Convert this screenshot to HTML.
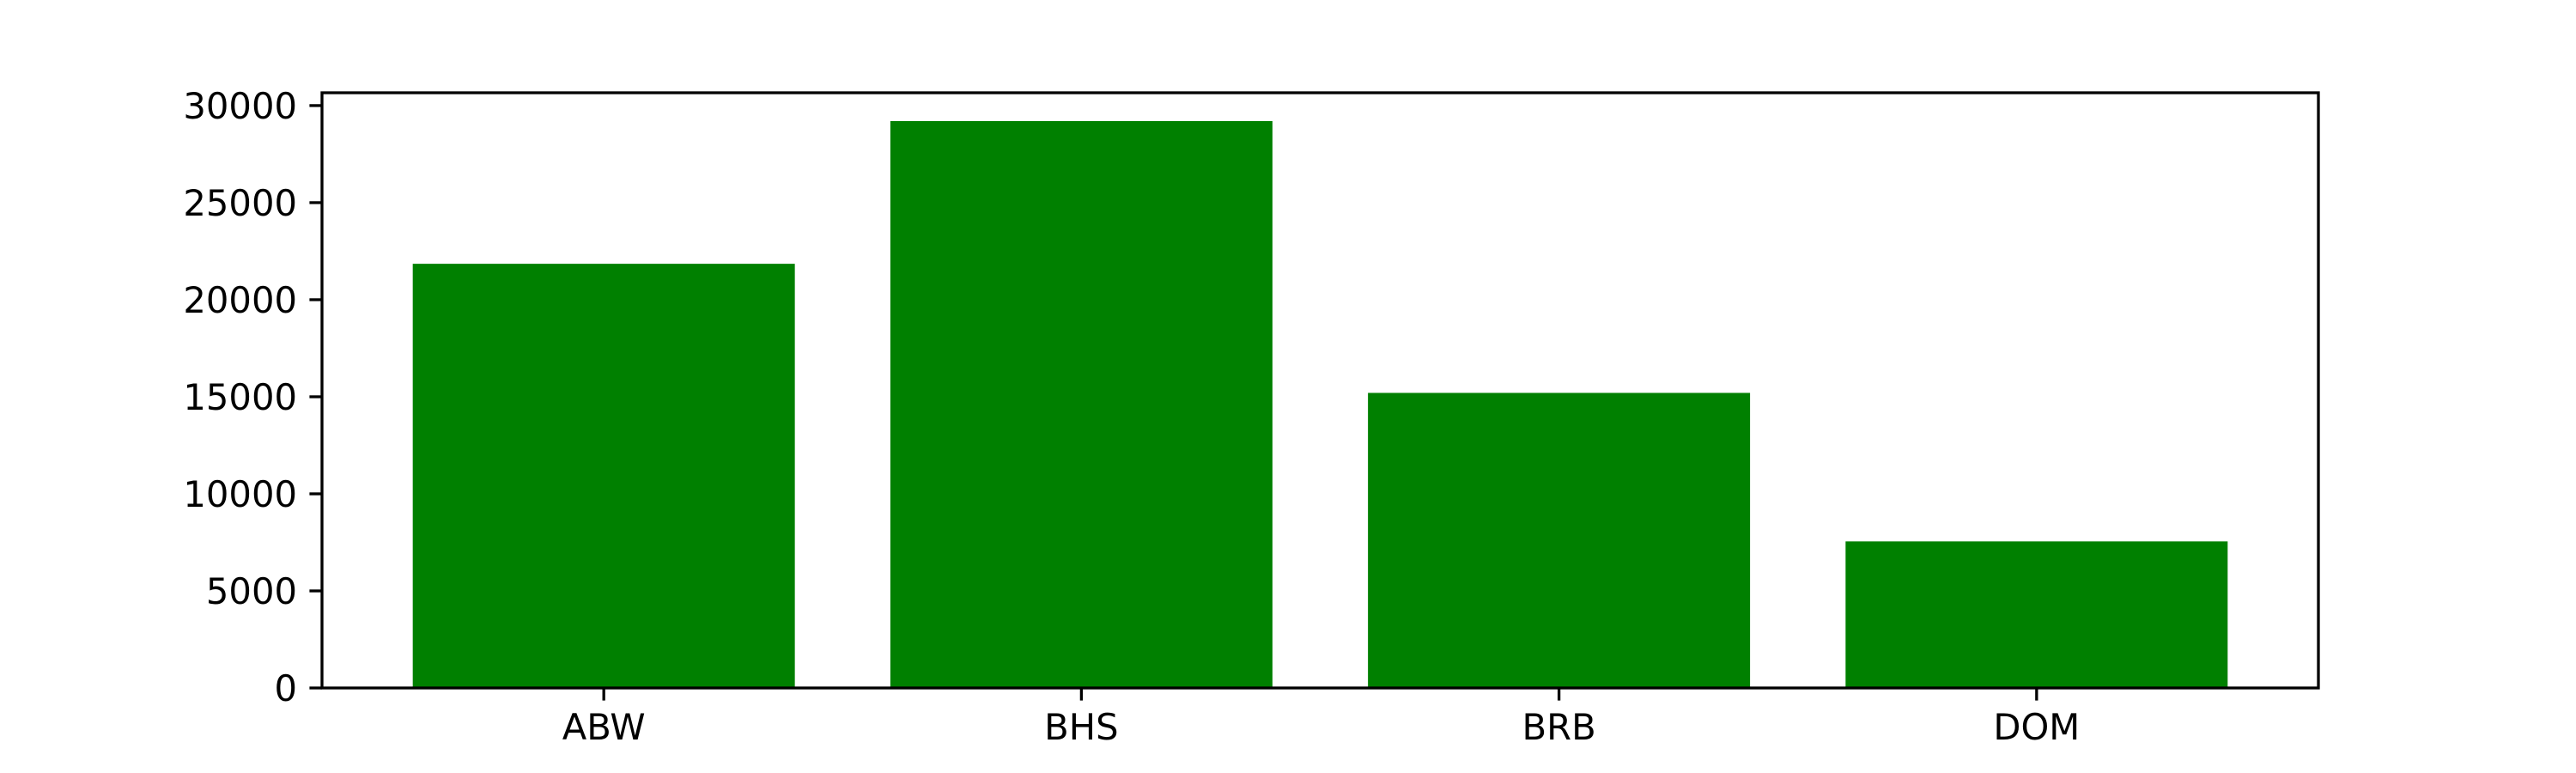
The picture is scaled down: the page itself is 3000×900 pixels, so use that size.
<!DOCTYPE html>
<html><head><meta charset="utf-8"><style>
html,body{margin:0;padding:0;background:#fff;}
svg{display:block;}
text{font-family:"DejaVu Sans","Liberation Sans",sans-serif;font-size:41.7px;fill:#000;}
</style></head>
<body>
<svg id="chart" width="3000" height="900"></svg>
<script>
const categories = ["ABW", "BHS", "BRB", "DOM"];
const values = [21850, 29200, 15200, 7550];
const yTicks = [0, 5000, 10000, 15000, 20000, 25000, 30000];

const NS = "http://www.w3.org/2000/svg";
const svg = document.getElementById("chart");
const L = 375, R = 2700, T = 108, B = 801;
const yMax = Math.max(...values) * 1.05;
const xMin = -0.4 - 0.19 * (categories.length - 1 + 0.8) / 3.8, xMax = categories.length - 1 + 0.4 + 0.19 * (categories.length - 1 + 0.8) / 3.8;
function xs(v){ return L + (v - xMin) / (xMax - xMin) * (R - L); }
function ys(v){ return B - v / yMax * (B - T); }
function mk(tag, attrs){ const e = document.createElementNS(NS, tag); for (const k in attrs) e.setAttribute(k, attrs[k]); svg.appendChild(e); return e; }

values.forEach((v, i) => {
  const r = mk("rect", {x: xs(i - 0.4), y: ys(v), width: xs(i + 0.4) - xs(i - 0.4), height: B - ys(v), fill: "#008000"});
  
  
});

yTicks.forEach(t => {
  const y = ys(t);
  const l = mk("line", {x1: L - 14.6, x2: L, y1: y, y2: y, stroke: "#000", "stroke-width": 3.3});
  
  
  const tx = mk("text", {x: L - 29, y: y + 15, "text-anchor": "end"});
  tx.textContent = t;
  
  
});

categories.forEach((c, i) => {
  const x = xs(i);
  const l = mk("line", {x1: x, x2: x, y1: B, y2: B + 14.6, stroke: "#000", "stroke-width": 3.3});
  
  
  const tx = mk("text", {x: x, y: B + 60, "text-anchor": "middle"});
  tx.textContent = c;
  
  
});

const frame = mk("rect", {x: L, y: T, width: R - L, height: B - T, fill: "none", stroke: "#000", "stroke-width": 3.3});


</script>
</body></html>
